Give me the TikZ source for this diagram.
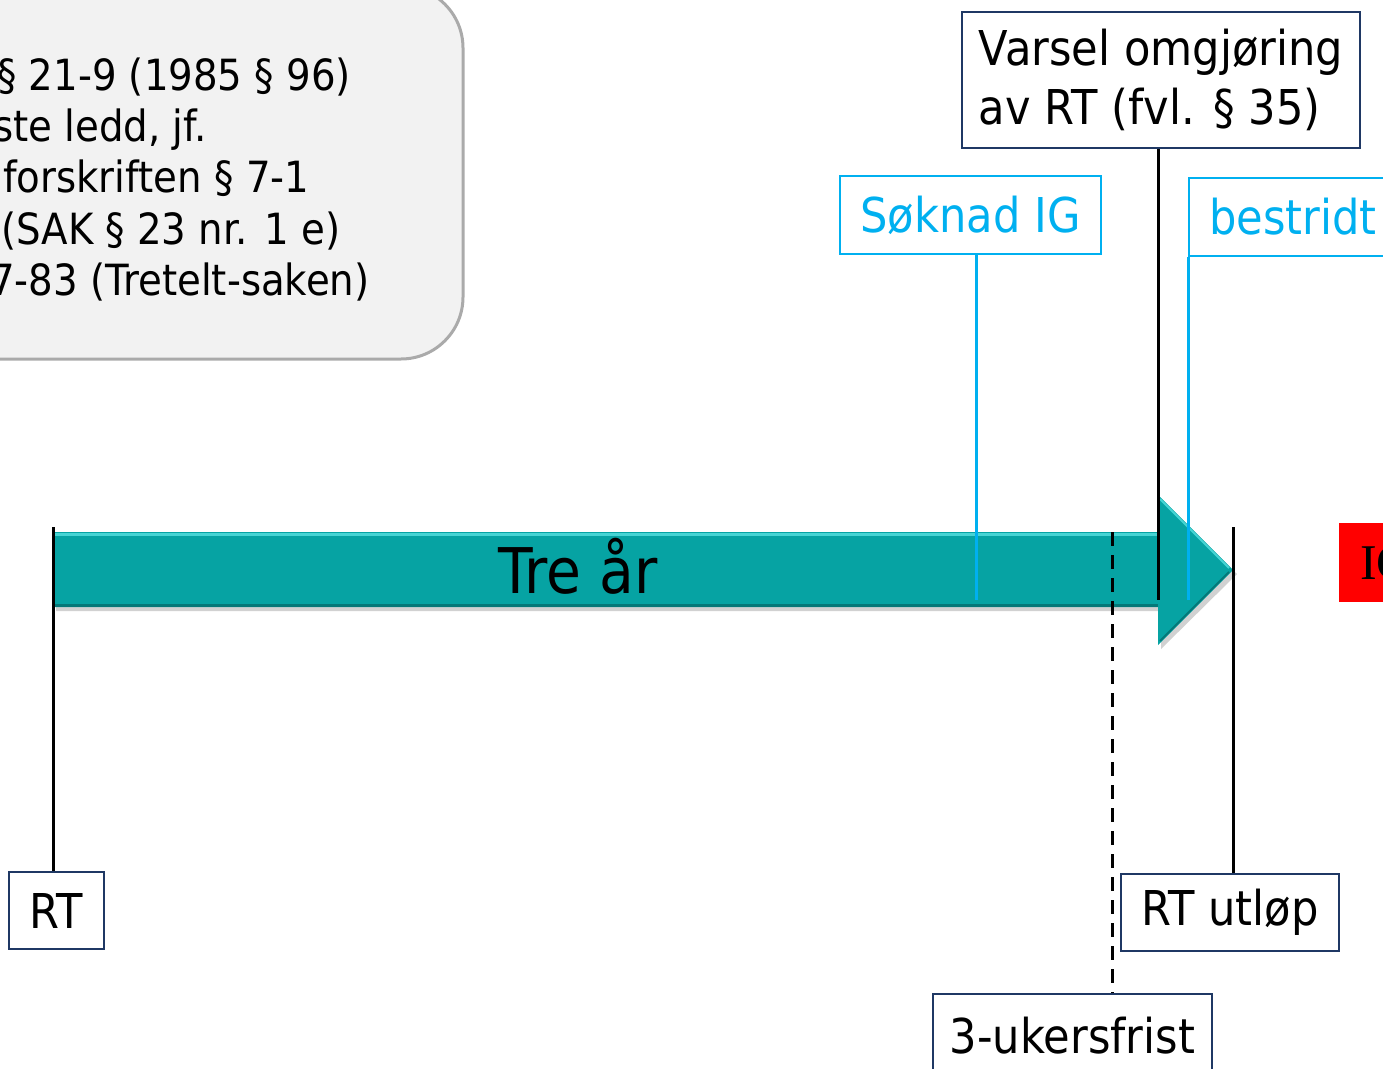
\documentclass[tikz,border=0pt]{standalone}
\usepackage{fontspec}
\setmainfont{DejaVu Sans}[FakeStretch=0.9]
\newfontfamily\serifIG{Liberation Serif}
\definecolor{tealA}{RGB}{6,163,163}
\definecolor{tealHi}{RGB}{70,212,212}
\definecolor{tealDk}{RGB}{4,120,120}
\definecolor{navy}{RGB}{31,56,100}
\definecolor{cyanB}{RGB}{0,176,240}
\definecolor{boxgray}{RGB}{242,242,242}
\definecolor{boxedge}{RGB}{170,170,170}
\tikzset{
  nbox/.style={draw=navy, line width=2pt, fill=white, text=black, inner sep=0pt,
    font=\fontsize{48}{59}\selectfont},
  cbox/.style={draw=cyanB, line width=2pt, fill=white, text=cyanB, inner sep=0pt,
    font=\fontsize{48}{59}\selectfont},
  bline/.style={draw=black, line width=3pt},
  cline/.style={draw=cyanB, line width=3pt},
  dline/.style={draw=black, line width=3pt, dash pattern=on 14pt off 9pt},
  reftext/.style={anchor=base west, inner sep=0pt, font=\fontsize{43}{51}\selectfont}
}
\begin{document}
\begin{tikzpicture}[x=1pt,y=-1pt]
\useasboundingbox (0,0) rectangle (1383,1068);
\clip (0,0) rectangle (1383,1068);

% reference box (top left, cut off)
\draw[line width=3pt, draw=boxedge, fill=boxgray, rounded corners=62] (-90,-14) rectangle (463,359);
\node[reftext] (r1) at (-3,90) {§ 21-9 (1985 § 96)};
\node[reftext] (r2) at (-7,141) {ste ledd, jf.};
\node[reftext] (r3) at (3,192) {forskriften § 7-1};
\node[reftext] (r4) at (1,244) {(SAK § 23 nr. 1 e)};
\node[reftext] (r5) at (-10,295) {7-83 (Tretelt-saken)};

% big arrow
\fill[black, opacity=0.18] (56,536) -- (1161,536) -- (1161,499) -- (1237,574) -- (1161,649) -- (1161,611) -- (56,611) -- cycle;
\fill[tealA] (53,532) -- (1158,532) -- (1158,495) -- (1233,570) -- (1158,645) -- (1158,607) -- (53,607) -- cycle;
\draw[tealHi, line width=3pt] (55,534.5) -- (1158,534.5);
\draw[tealHi, line width=2pt] (1160,499) -- (1229,568);
\draw[tealDk, line width=2.5pt] (55,605.5) -- (1158,605.5);
\draw[tealDk, line width=2pt] (1160,641) -- (1229,572);
\node[font=\fontsize{63}{70}\selectfont, inner sep=0pt] (tre) at (578,566) {Tre år};

% boxes
\node[nbox, minimum width=95, minimum height=77] (rt) at (56.5,910.5) {RT};
\node[nbox, minimum width=218, minimum height=77] (rtu) at (1230,912.5) {RT utløp};
\node[nbox, minimum width=279, minimum height=84, anchor=north] (uke) at (1072.5,993) {3-ukersfrist};
\node[nbox, minimum width=398, minimum height=136, align=left] (varsel) at (1161,80) {Varsel omgjøring\\av RT (fvl. § 35)};
\node[cbox, minimum width=261, minimum height=78] (sok) at (970.5,215) {Søknad IG};
\node[cbox, anchor=west, minimum height=78, text width=210, align=left, inner xsep=20pt] (best) at (1188,217) {bestridt};
\node[fill=red, anchor=north west, minimum height=79, text width=60, align=left, inner xsep=21pt, font=\fontsize{50}{55}\selectfont\serifIG] (ig) at (1339,523) {IG};

% coordinates for free ends
\coordinate (rtTop) at (53,527);
\coordinate (rtuTop) at (1233,527);
\coordinate (dTop) at (1112,532);
\coordinate (vEnd) at (1158,600);
\coordinate (sEnd) at (976,600);
\coordinate (bEnd) at (1188,600);

% connectors
\draw[bline] (rtTop) -- (rt.north -| rtTop);
\draw[bline] (rtuTop) -- (rtu.north -| rtuTop);
\draw[dline] (dTop) -- (uke.north -| dTop);
\draw[bline] (varsel.south -| vEnd) -- (vEnd);
\draw[cline] (sok.south -| sEnd) -- (sEnd);
\draw[cline] (best.south west) -- (bEnd);
\end{tikzpicture}
\end{document}
